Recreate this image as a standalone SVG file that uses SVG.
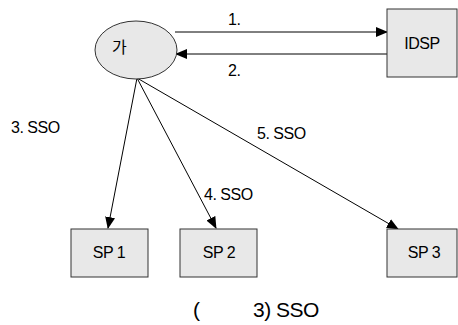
<svg xmlns="http://www.w3.org/2000/svg" width="458" height="325" viewBox="0 0 458 325">
<style>
.box{fill:#e8e8e8;stroke:#333;stroke-width:1}
.t{font-family:"Liberation Sans",Arial,"Noto Sans CJK KR",sans-serif;font-size:16px;fill:#000;letter-spacing:-0.5px}
.c{text-anchor:middle}
.ln{stroke:#000;stroke-width:1;fill:none;marker-end:url(#ah)}
</style>
<defs>
<marker id="ah" markerWidth="12" markerHeight="10" refX="11" refY="5" orient="auto" markerUnits="userSpaceOnUse">
<path d="M0,0 L12,5 L0,10 Z" fill="#000"/>
</marker>
</defs>
<rect width="458" height="325" fill="#fff"/>
<g id="connectors">
<line class="ln" x1="175" y1="32" x2="387" y2="32"/>
<line class="ln" x1="387" y1="54" x2="176" y2="54"/>
<line class="ln" x1="137" y1="78" x2="108" y2="228"/>
<line class="ln" x1="137" y1="78" x2="216" y2="228"/>
<line class="ln" x1="137" y1="78" x2="398" y2="229"/>
<text class="t" x="228" y="25">1.</text>
<text class="t" x="228" y="76">2.</text>
<text class="t" x="11" y="133">3. SSO</text>
<text class="t" x="204" y="200">4. SSO</text>
<text class="t" x="257" y="139">5. SSO</text>
</g>
<g id="user">
<ellipse cx="136" cy="50" rx="41" ry="29" class="box"/>
<text x="112" y="53" fill="#000" style="font-family:'Noto Sans CJK KR',sans-serif;font-size:16px">가</text>
</g>
<g id="idsp">
<rect class="box" x="387" y="9" width="70" height="68"/>
<text class="t c" x="422" y="49">IDSP</text>
</g>
<g id="sp1">
<rect class="box" x="71" y="229" width="77" height="48"/>
<text class="t c" x="109" y="258">SP 1</text>
</g>
<g id="sp2">
<rect class="box" x="180" y="229" width="77" height="48"/>
<text class="t c" x="219" y="258">SP 2</text>
</g>
<g id="sp3">
<rect class="box" x="387" y="229" width="70" height="48"/>
<text class="t c" x="424" y="258">SP 3</text>
</g>
<text class="t" style="font-size:21px" y="317"><tspan x="193">(</tspan><tspan x="253">3) SSO</tspan></text>
</svg>
